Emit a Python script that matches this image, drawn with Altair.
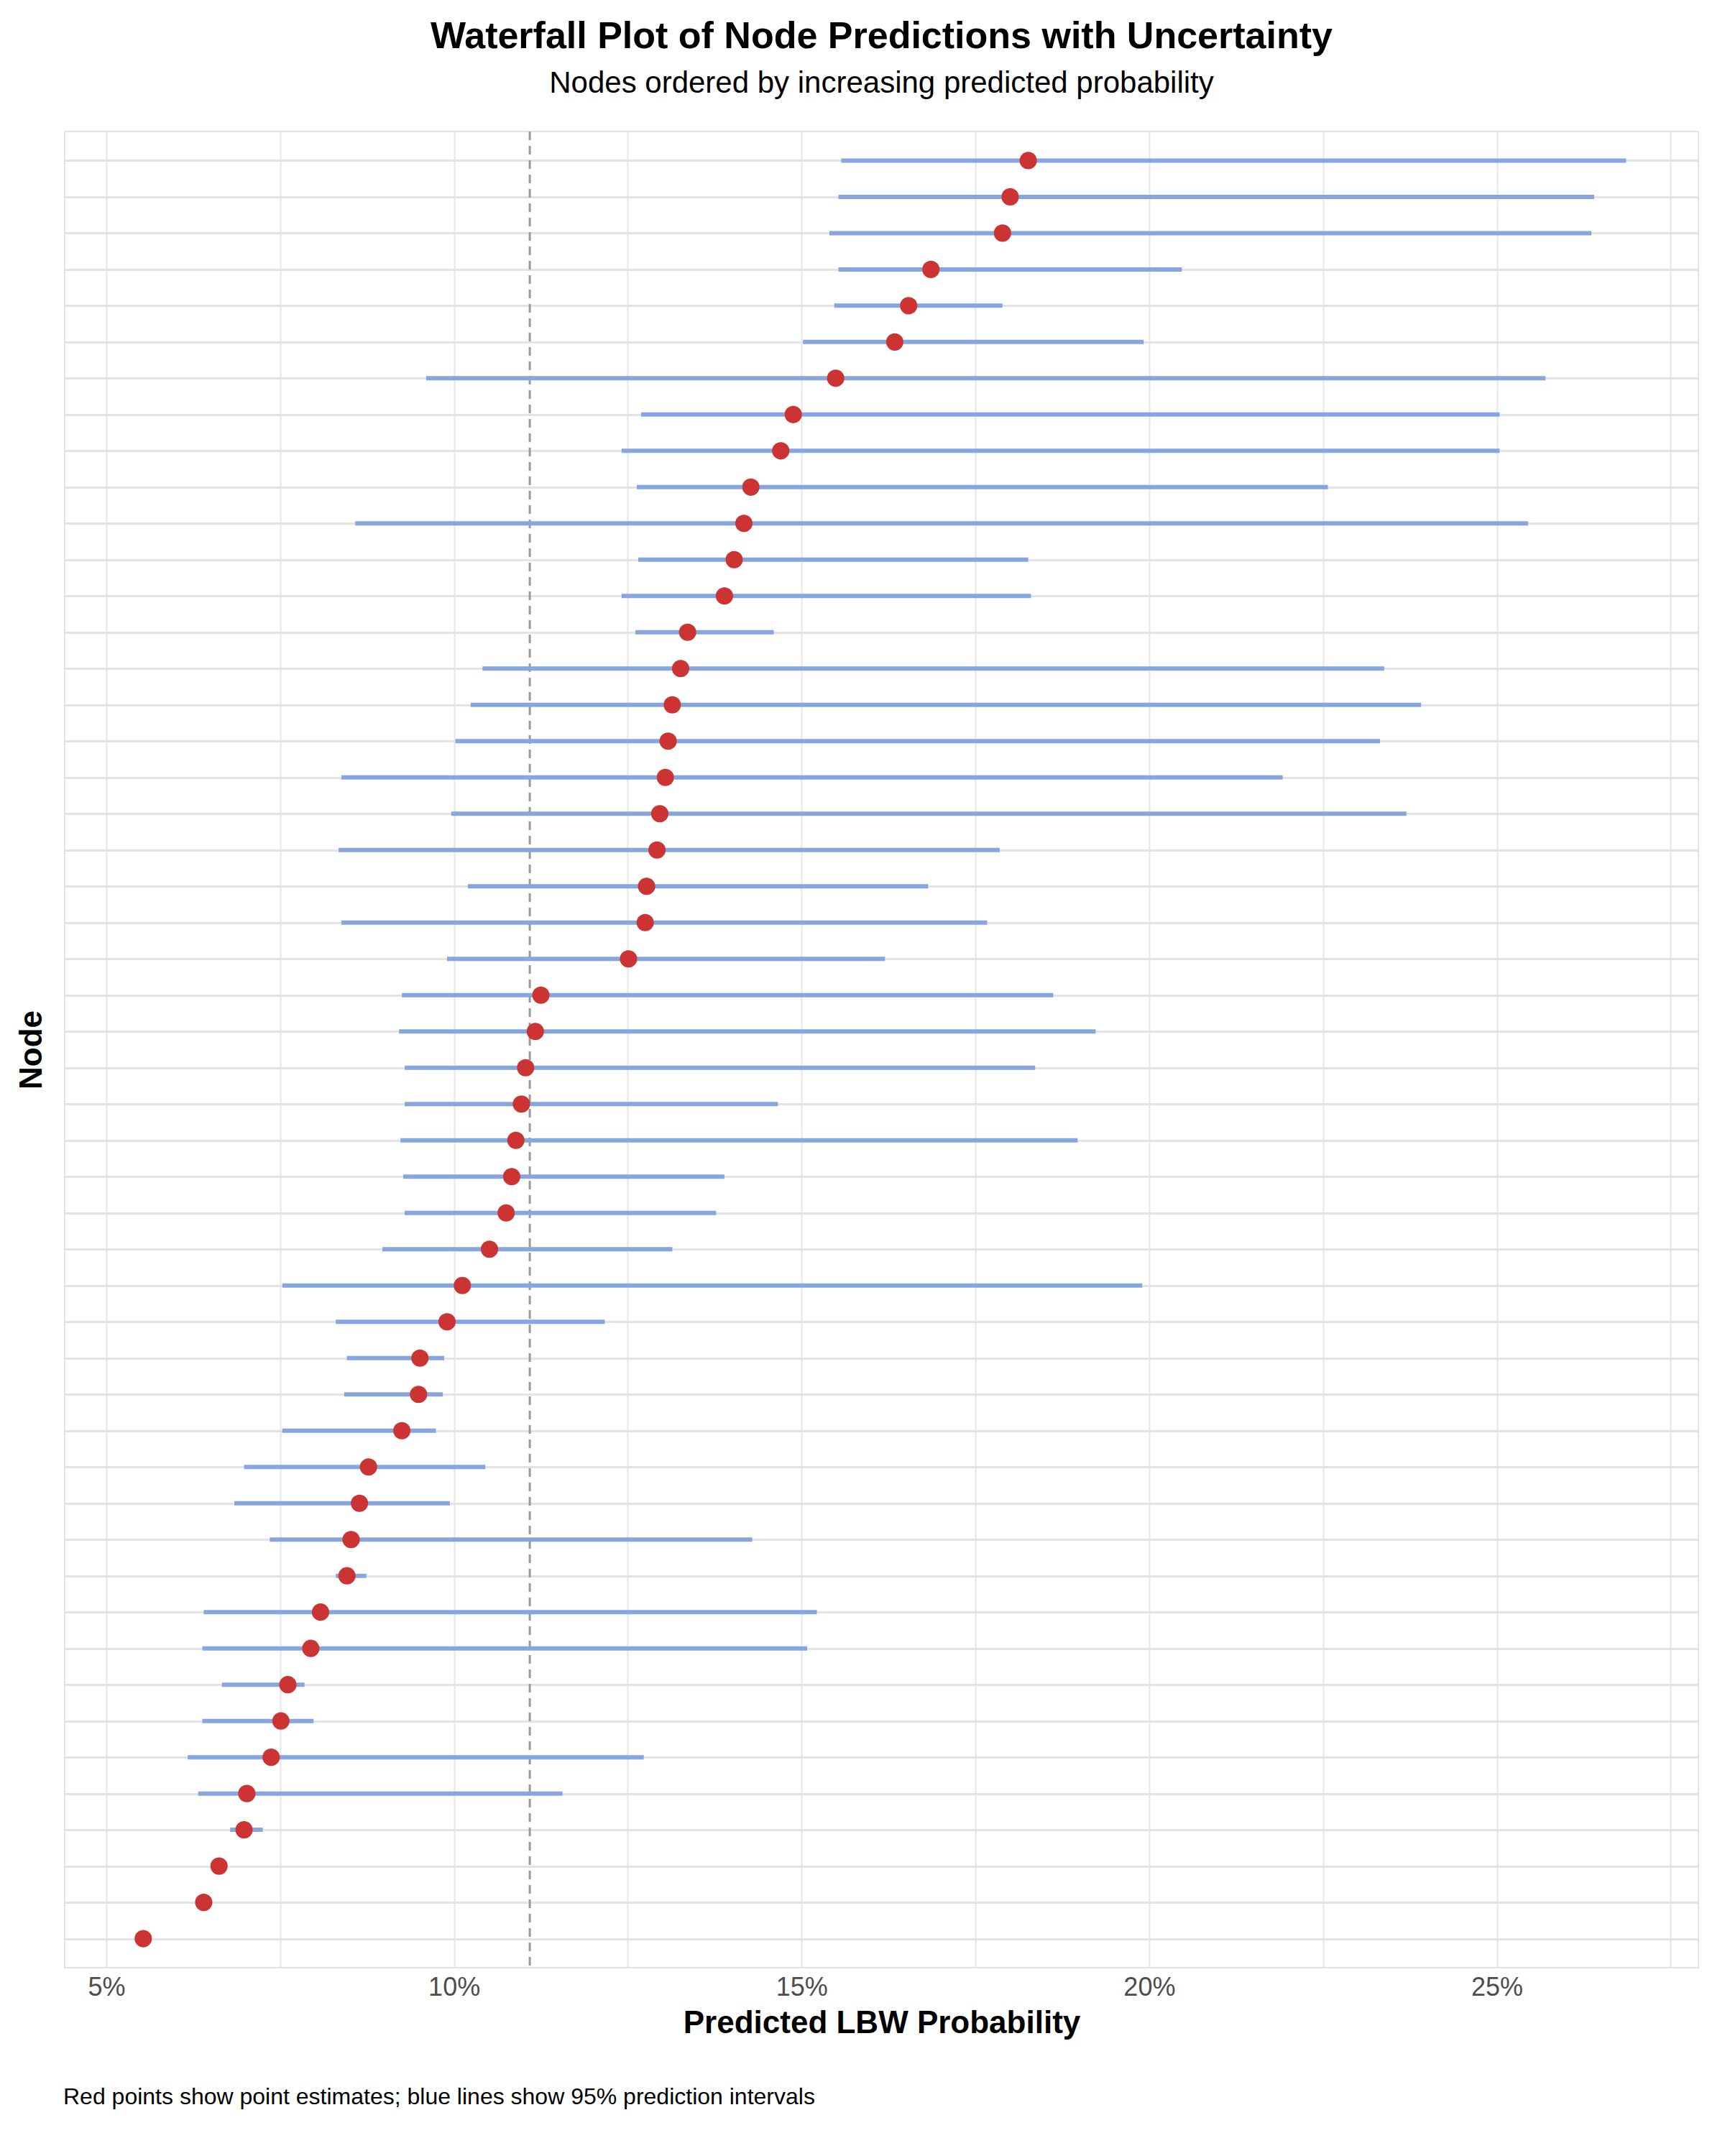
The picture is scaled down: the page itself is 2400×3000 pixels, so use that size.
import altair as alt
import pandas as pd

# point estimates (%), ordered from top row to bottom row
estimate = [18.26, 18.0, 17.89, 16.86, 16.54, 16.34, 15.49, 14.88, 14.7, 14.27,
            14.17, 14.03, 13.89, 13.36, 13.26, 13.14, 13.08, 13.04, 12.96, 12.92,
            12.77, 12.75, 12.51, 11.25, 11.17, 11.03, 10.97, 10.89, 10.83, 10.75,
            10.51, 10.12, 9.9, 9.51, 9.49, 9.25, 8.77, 8.64, 8.52, 8.46,
            8.08, 7.94, 7.61, 7.51, 7.37, 7.02, 6.98, 6.62, 6.4, 5.53]
lower = [15.57, 15.53, 15.4, 15.53, 15.47, 15.02, 9.6, 12.69, 12.41, 12.63,
         8.58, 12.65, 12.41, 12.61, 10.41, 10.24, 10.02, 8.38, 9.96, 8.34,
         10.2, 8.38, 9.9, 9.25, 9.21, 9.29, 9.29, 9.23, 9.27, 9.29,
         8.97, 7.53, 8.3, 8.46, 8.42, 7.53, 6.98, 6.84, 7.35, 8.3,
         6.4, 6.38, 6.66, 6.38, 6.17, 6.32, 6.78, 6.62, 6.4, 5.53]
upper = [26.86, 26.4, 26.36, 20.47, 17.89, 19.92, 25.7, 25.04, 25.04, 22.57,
         25.45, 18.26, 18.3, 14.6, 23.38, 23.91, 23.32, 21.92, 23.7, 17.85,
         16.82, 17.67, 16.2, 18.62, 19.23, 18.36, 14.66, 18.97, 13.89, 13.77,
         13.14, 19.9, 12.17, 9.86, 9.84, 9.74, 10.45, 9.94, 14.29, 8.74,
         15.22, 15.08, 7.85, 7.98, 12.73, 11.56, 7.25, 6.62, 6.4, 5.53]
mean_line = 11.09

n = len(estimate)
df = pd.DataFrame({
    "rank": list(range(n, 0, -1)),
    "est": [v / 100 for v in estimate],
    "lo": [v / 100 for v in lower],
    "hi": [v / 100 for v in upper],
})

W, H = 2273, 2555
font = "Liberation Sans"

x = alt.X("lo:Q", title="Predicted LBW Probability",
          scale=alt.Scale(domain=[0.044, 0.279], nice=False, zero=False),
          axis=alt.Axis(values=[0.05, 0.075, 0.1, 0.125, 0.15, 0.175, 0.2, 0.225, 0.25, 0.275],
                        labelExpr="round(datum.value*1000) % 50 == 0 ? format(datum.value, '.0%') : ''",
                        ticks=False, domain=False, gridColor="#e6e6e6", gridWidth=2,
                        labelFontSize=36, labelColor="#4d4d4d", titleFontSize=44,
                        titleFontWeight="bold", titlePadding=10, labelPadding=10))
y = alt.Y("rank:Q", title="Node",
          scale=alt.Scale(domain=[0.2, n + 0.8], nice=False),
          axis=alt.Axis(values=list(range(1, n + 1)), labels=False, ticks=False, domain=False,
                        gridColor="#e3e3e3", gridWidth=3, titleFontSize=44,
                        titleFontWeight="bold", titlePadding=24))

base = alt.Chart(df)
lines = base.mark_rule(color="#87A6E0", strokeWidth=6).encode(x=x, x2="hi:Q", y=y)
points = base.mark_circle(color="#CC3333", opacity=1, size=580).encode(x="est:Q", y="rank:Q")
vline = alt.Chart(pd.DataFrame({"m": [mean_line / 100]})).mark_rule(
    color="#999999", strokeDash=[12, 8], strokeWidth=3).encode(x="m:Q")
caption = alt.Chart(pd.DataFrame({"t": ["Red points show point estimates; blue lines show 95% prediction intervals"]})).mark_text(
    align="left", baseline="middle", fontSize=32, font=font, color="#000000").encode(
    text="t:N", x=alt.value(-2), y=alt.value(H + 180))

chart = (vline + lines + points + caption).properties(
    width=W, height=H,
    padding={"left": 14, "top": 16, "right": 20, "bottom": 10},
    title=alt.TitleParams("Waterfall Plot of Node Predictions with Uncertainty",
                          subtitle="Nodes ordered by increasing predicted probability",
                          fontSize=52, subtitleFontSize=42, font=font, subtitleFont=font,
                          fontWeight="bold", subtitleColor="#000000", subtitlePadding=18,
                          anchor="middle", offset=44),
    background="white",
).configure_view(stroke="#e3e3e3", strokeWidth=2).configure_axis(
    labelFont=font, titleFont=font, titleColor="#000000")

chart.save("out.html", embed_options={"renderer": "svg", "actions": False})
